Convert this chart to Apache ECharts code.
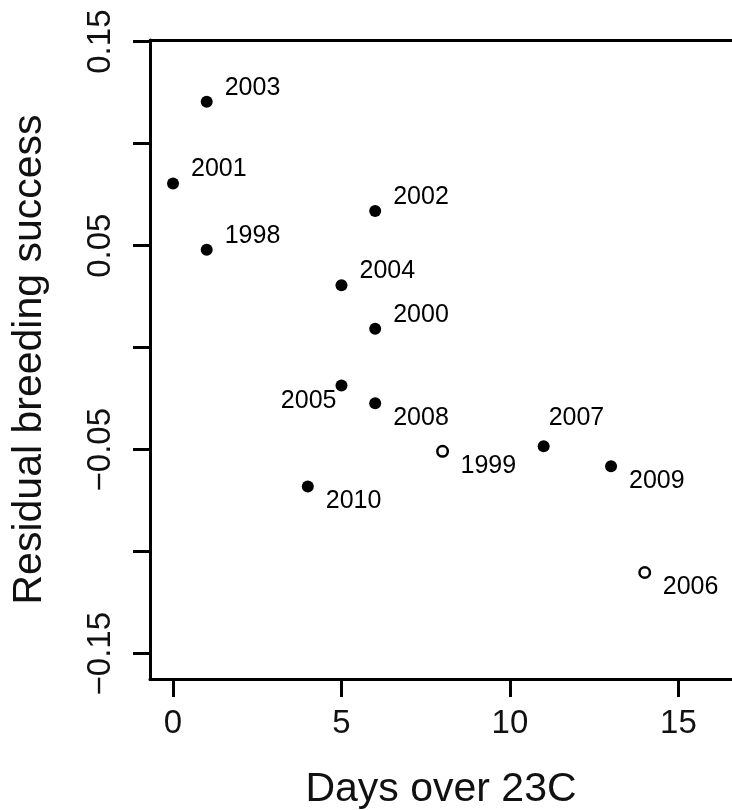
<!DOCTYPE html>
<html><head><meta charset="utf-8">
<script src="https://cdn.jsdelivr.net/npm/echarts@6/dist/echarts.min.js"></script>
<style>html,body{margin:0;padding:0;background:#fff}#c{width:732px;height:810px}</style>
</head><body><div id="c"></div>
<script>
// ---- data ----
const years     = [2003, 2001, 2002, 1998, 2004, 2000, 2005, 2008, 1999, 2007, 2009, 2010, 2006];
const days      = [1, 0, 6, 1, 5, 6, 5, 6, 8, 11, 13, 4, 14];
const residuals = [0.1205, 0.0805, 0.067, 0.048, 0.0306, 0.0093, -0.0185, -0.0272, -0.0508, -0.0483, -0.0581, -0.0681, -0.1102];
const hollowYears = [1999, 2006];
const xTicks = [0, 5, 10, 15];
const yTicks = [-0.15, -0.10, -0.05, 0, 0.05, 0.10, 0.15];
const yTickLabels = [-0.15, -0.05, 0.05, 0.15];

// ---- style ----
const FONT = '"Liberation Sans", Arial, Helvetica, sans-serif';
const placements = {
  upRight:   {align: 'left',  offset: [18, -14]},
  downRight: {align: 'left',  offset: [18, 15]},
  up:        {align: 'left',  offset: [5, -28]},
  downLeft:  {align: 'right', offset: [-5, 16]}
};
const labelPlace = {2005: 'downLeft', 2007: 'up', 2008: 'downRight', 1999: 'downRight', 2009: 'downRight', 2010: 'downRight', 2006: 'downRight'};

function makeItem(i) {
  const p = placements[labelPlace[years[i]] || 'upRight'];
  return {
    value: [days[i], residuals[i]],
    name: String(years[i]),
    label: {show: true, position: 'inside', formatter: '{b}', align: p.align, verticalAlign: 'middle', offset: p.offset,
            fontSize: 25, color: '#000', fontFamily: FONT}
  };
}
const filled = [], hollow = [];
years.forEach((y, i) => (hollowYears.includes(y) ? hollow : filled).push(makeItem(i)));

const axisLineStyle = {color: '#000', width: 3};
const xMin = -0.683, xMax = 16.59;
const yMin = -0.1624, yMax = 0.1508;

const chart = echarts.init(document.getElementById('c'));
chart.setOption({
  animation: false,
  backgroundColor: '#fff',
  grid: {left: 150, top: 40, right: 0, bottom: 131, containLabel: false, outerBoundsMode: 'none'},
  xAxis: [{
    type: 'value', min: xMin, max: xMax, position: 'bottom',
    axisLine: {show: true, onZero: false, lineStyle: axisLineStyle},
    axisTick: {show: true, customValues: xTicks, length: 18, lineStyle: axisLineStyle},
    axisLabel: {customValues: xTicks, fontSize: 33, color: '#111', margin: 28, fontFamily: FONT},
    splitLine: {show: false},
    name: 'Days over 23C', nameLocation: 'middle', nameGap: 90,
    nameTextStyle: {fontSize: 41, color: '#111', fontFamily: FONT}
  }, {
    type: 'value', min: xMin, max: xMax, position: 'top',
    axisLine: {show: true, onZero: false, lineStyle: axisLineStyle},
    axisTick: {show: false}, axisLabel: {show: false}, splitLine: {show: false}
  }],
  yAxis: {
    type: 'value', min: yMin, max: yMax,
    axisLine: {show: true, onZero: false, lineStyle: axisLineStyle},
    axisTick: {show: true, customValues: yTicks, length: 17, lineStyle: axisLineStyle},
    axisLabel: {customValues: yTickLabels, rotate: 90, fontSize: 33, color: '#111', margin: 33, fontFamily: FONT,
      formatter: v => (v < 0 ? '\u2212' : '') + Math.abs(v).toFixed(2)},
    splitLine: {show: false},
    name: 'Residual breeding success', nameLocation: 'middle', nameRotate: 90, nameGap: 100,
    nameTextStyle: {fontSize: 41, color: '#111', fontFamily: FONT}
  },
  series: [{
    type: 'scatter', data: filled, symbol: 'circle', symbolSize: 12,
    itemStyle: {color: '#000', opacity: 1}
  }, {
    type: 'scatter', data: hollow, symbol: 'circle', symbolSize: 10.5,
    itemStyle: {color: '#fff', borderColor: '#000', borderWidth: 2.5, opacity: 1}
  }]
});
</script>
</body></html>
